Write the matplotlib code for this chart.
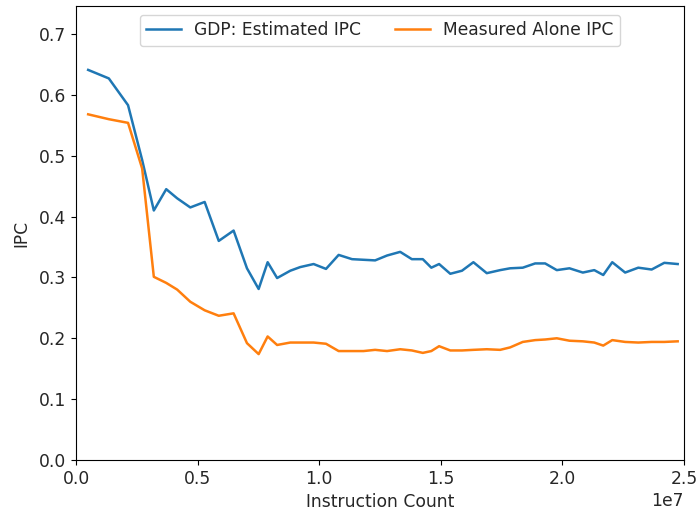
import matplotlib
matplotlib.use("Agg")
import matplotlib.pyplot as plt

instr = [0.50, 1.35, 2.14, 2.72, 3.20, 3.71, 4.16, 4.70, 5.29, 5.87,
         6.48, 7.03, 7.51, 7.88, 8.27, 8.81, 9.22, 9.77, 10.28, 10.80,
         11.35, 11.82, 12.30, 12.79, 13.33, 13.81, 14.26, 14.61, 14.93, 15.39,
         15.87, 16.34, 16.89, 17.44, 17.85, 18.37, 18.88, 19.29, 19.77, 20.29,
         20.84, 21.31, 21.68, 22.05, 22.58, 23.12, 23.67, 24.19, 24.74]
instr = [v * 1e6 for v in instr]

gdp_ipc = [0.641, 0.627, 0.583, 0.493, 0.410, 0.445, 0.430, 0.415, 0.424, 0.360,
           0.377, 0.315, 0.281, 0.325, 0.299, 0.311, 0.317, 0.322, 0.314, 0.337,
           0.330, 0.329, 0.328, 0.336, 0.342, 0.330, 0.330, 0.316, 0.322, 0.306,
           0.311, 0.325, 0.307, 0.312, 0.315, 0.316, 0.323, 0.323, 0.312, 0.315,
           0.308, 0.312, 0.304, 0.325, 0.308, 0.316, 0.313, 0.324, 0.322]

alone_ipc = [0.568, 0.560, 0.554, 0.479, 0.301, 0.291, 0.280, 0.260, 0.246, 0.237,
             0.241, 0.192, 0.174, 0.203, 0.189, 0.193, 0.193, 0.193, 0.191, 0.179,
             0.179, 0.179, 0.181, 0.179, 0.182, 0.180, 0.176, 0.179, 0.187, 0.180,
             0.180, 0.181, 0.182, 0.181, 0.185, 0.194, 0.197, 0.198, 0.200, 0.196,
             0.195, 0.193, 0.188, 0.197, 0.194, 0.193, 0.194, 0.194, 0.195]

plt.rcParams["font.size"] = 12.3
plt.rcParams["text.color"] = "#262626"
plt.rcParams["xtick.labelcolor"] = "#262626"
plt.rcParams["ytick.labelcolor"] = "#262626"
plt.rcParams["axes.labelcolor"] = "#262626"

W, H = 699, 514
fig = plt.figure(figsize=(W / 100, H / 100), dpi=100)
ax = fig.add_axes([76 / W, 1 - 460 / H, (684 - 76) / W, (460 - 6) / H])
ax.plot(instr, gdp_ipc, color="#1f77b4", label="GDP: Estimated IPC", linewidth=1.8)
ax.plot(instr, alone_ipc, color="#ff7f0e", label="Measured Alone IPC", linewidth=1.8)
ax.set_xlim(0, 2.5e7)
ax.set_ylim(0, 0.746)
ax.set_xlabel("Instruction Count")
ax.set_ylabel("IPC", labelpad=6)
ax.legend(loc="upper center", ncol=2)
fig.savefig("out.png", dpi=100)
